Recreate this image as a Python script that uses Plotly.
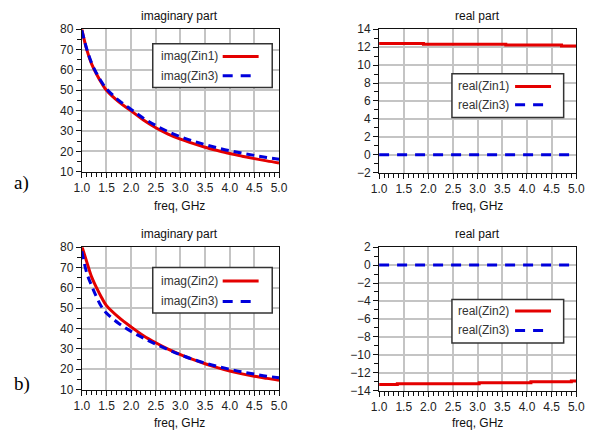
import plotly.graph_objects as go

W, H = 595, 445

# ---------------- data ----------------
freq = [1.0, 1.1, 1.2, 1.3, 1.4, 1.5, 1.75, 2.0, 2.25, 2.5, 2.75, 3.0, 3.25, 3.5,
        3.75, 4.0, 4.25, 4.5, 4.75, 5.0]

imag_zin1_a = [80.0, 70.0, 62.9, 57.9, 53.6, 50.0, 44.3, 39.9, 35.4, 31.6, 28.5, 26.0,
               23.9, 22.0, 20.4, 18.9, 17.6, 16.4, 15.3, 14.3]
imag_zin3_a = [79.5, 70.3, 63.3, 58.3, 54.2, 50.8, 45.0, 40.6, 36.3, 32.7, 29.7, 27.2,
               25.1, 23.3, 21.7, 20.3, 19.1, 18.0, 17.0, 16.1]

imag_zin2_b = [80.5, 72.8, 65.3, 60.0, 55.3, 51.3, 45.5, 40.8, 36.5, 33.0, 29.9, 27.2,
               24.8, 22.7, 20.8, 19.1, 17.7, 16.5, 15.5, 14.6]
imag_zin3_b = [78.0, 67.3, 61.0, 55.4, 50.7, 47.6, 42.5, 38.6, 35.3, 32.3, 29.6, 27.1,
               24.9, 23.0, 21.4, 20.0, 18.7, 17.6, 16.6, 15.8]

real_freq_a = [1.0, 1.9, 3.57, 4.7, 5.0]
real_zin1_a = [12.42, 12.32, 12.24, 12.14, 12.14]

real_freq_b = [1.0, 1.37, 3.03, 4.08, 4.9, 5.0]
real_zin2_b = [-13.33, -13.23, -13.13, -13.03, -12.93, -12.93]

real_freq_zero = [1.0, 5.0]
real_zin3 = [0.0, 0.0]

x_ticks = [1.0, 1.5, 2.0, 2.5, 3.0, 3.5, 4.0, 4.5, 5.0]

RED = "#e40000"
BLUE = "#0000dc"
DASH = "8px,5px"
FONT = "Liberation Sans"


def px_x(p):
    return p / W


def px_y(p):
    return 1 - p / H


fig = go.Figure()


def add(x, y, ax, color, dash=None, shape="spline", width=3):
    fig.add_trace(go.Scatter(
        x=x, y=y, mode="lines", xaxis="x" + ax, yaxis="y" + ax,
        line=dict(color=color, width=width, shape=shape, dash=dash),
        showlegend=False, hoverinfo="skip"))


# panel 1 (a, imaginary)
add(freq, imag_zin1_a, "", RED)
add(freq, imag_zin3_a, "", BLUE, DASH)
# panel 2 (a, real)
add(real_freq_a, real_zin1_a, "2", RED, shape="hv")
add(real_freq_zero, real_zin3, "2", BLUE, "10px,8px", shape="linear")
# panel 3 (b, imaginary)
add(freq, imag_zin2_b, "3", RED)
add(freq, imag_zin3_b, "3", BLUE, DASH)
# panel 4 (b, real)
add(real_freq_b, real_zin2_b, "4", RED, shape="hv")
add(real_freq_zero, real_zin3, "4", BLUE, "10px,8px", shape="linear")

# ---------------- axes ----------------
panels = {
    "": dict(x=(76, 279), y=(23, 170), yr=[10, 80], dt=10, mdt=5),
    "2": dict(x=(382, 585), y=(23, 171), yr=[-2, 14], dt=2, mdt=1),
    "3": dict(x=(76, 279), y=(248, 395), yr=[10, 80], dt=10, mdt=5),
    "4": dict(x=(382, 585), y=(248, 396), yr=[-14, 2], dt=2, mdt=1),
}

common = dict(
    showline=True, linecolor="#111", linewidth=1, mirror=True,
    showgrid=True, gridcolor="#c4c4c4", gridwidth=1.5, zeroline=False,
    ticks="outside", ticklen=5, tickcolor="#111", tickwidth=1,
    tickfont=dict(family=FONT, size=12, color="#222"),
)

layout_axes = {}
for key, p in panels.items():
    layout_axes["xaxis" + key] = dict(
        common, domain=[px_x(p["x"][0]), px_x(p["x"][1])], range=[1.0, 5.0],
        tickvals=x_ticks, tickformat=".1f", anchor="y" + key,
        minor=dict(dtick=0.1, ticks="outside", ticklen=4, tickcolor="#111", showgrid=False),
    )
    layout_axes["yaxis" + key] = dict(
        common, domain=[px_y(p["y"][1]), px_y(p["y"][0])], range=p["yr"],
        dtick=p["dt"], tick0=0, anchor="x" + key,
        minor=dict(dtick=p["mdt"], ticks="outside", ticklen=4, tickcolor="#111", showgrid=False),
    )

fig.update_layout(**layout_axes)

# ---------------- text ----------------
ann = []


def text(t, x, y, size=12, family=FONT, color="#111", xanchor="center"):
    ann.append(dict(text=t, x=px_x(x), y=px_y(y), xref="paper", yref="paper",
                    showarrow=False, xanchor=xanchor, yanchor="middle",
                    font=dict(family=family, size=size, color=color)))


text("imaginary part", 177, 9)
text("real part", 483, 9)
text("imaginary part", 177, 234)
text("real part", 483, 234)
text("freq, GHz", 177, 205)
text("freq, GHz", 483, 205)
text("freq, GHz", 177, 430)
text("freq, GHz", 483, 430)
text("a)", 14, 182, size=19, family="Liberation Serif", color="#000")
text("b)", 14, 389, size=19, family="Liberation Serif", color="#000")

# ---------------- legend boxes ----------------
shapes = []
legends = [
    dict(box=(149, 38, 272, 83), rows=[("imag(Zin1)", 51, RED, None), ("imag(Zin3)", 71, BLUE, "dash")], tx=155, lx=(221, 258)),
    dict(box=(457, 69, 572, 114), rows=[("real(Zin1)", 82, RED, None), ("real(Zin3)", 101, BLUE, "dash")], tx=461, lx=(522, 559)),
    dict(box=(149, 269, 272, 316), rows=[("imag(Zin2)", 283, RED, None), ("imag(Zin3)", 304, BLUE, "dash")], tx=155, lx=(221, 258)),
    dict(box=(457, 302, 572, 347), rows=[("real(Zin2)", 314, RED, None), ("real(Zin3)", 334, BLUE, "dash")], tx=461, lx=(522, 559)),
]
for lg in legends:
    x0, y0, x1, y1 = lg["box"]
    shapes.append(dict(type="rect", xref="paper", yref="paper",
                       x0=px_x(x0), x1=px_x(x1), y0=px_y(y1), y1=px_y(y0),
                       line=dict(color="#333", width=1.5), fillcolor="white", layer="above"))
    for label, yy, col, dash in lg["rows"]:
        text(label, lg["tx"], yy, size=12, color="#333", xanchor="left")
        shapes.append(dict(type="line", xref="paper", yref="paper",
                           x0=px_x(lg["lx"][0]), x1=px_x(lg["lx"][1] if dash is None else lg["lx"][1] - 6),
                           y0=px_y(yy), y1=px_y(yy),
                           line=dict(color=col, width=3, dash="10px,8px" if dash else None),
                           layer="above"))

fig.update_layout(
    width=W, height=H, margin=dict(l=0, r=0, t=0, b=0),
    paper_bgcolor="white", plot_bgcolor="white",
    annotations=ann, shapes=shapes, showlegend=False,
)

fig.write_html(
    "out.html",
    config={"displayModeBar": False},
    post_script="document.body.style.margin='0';document.body.style.overflow='hidden';"
                "document.documentElement.style.overflow='hidden';",
)
